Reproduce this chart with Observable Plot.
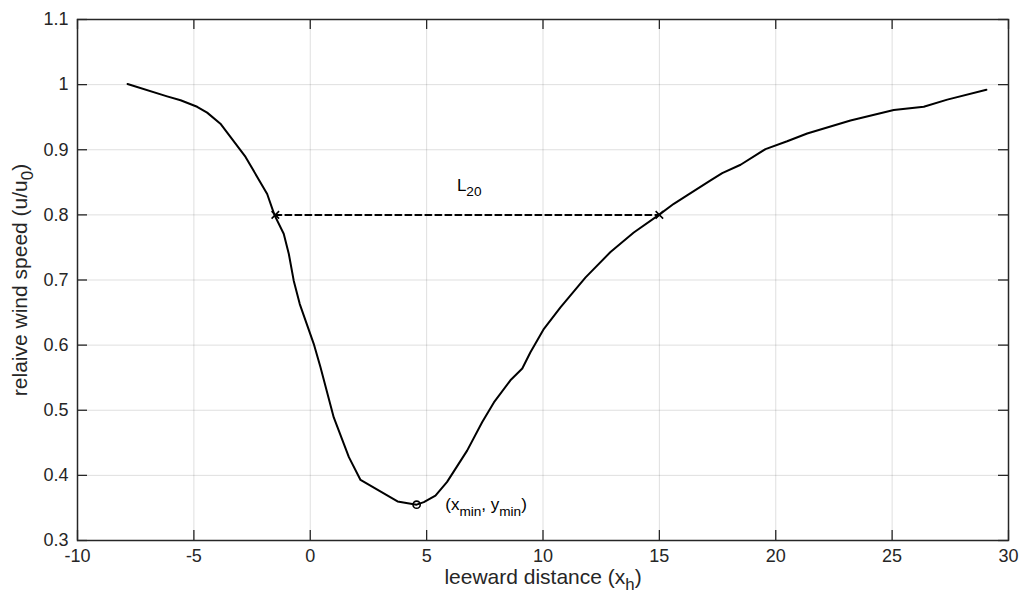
<!DOCTYPE html>
<html>
<head>
<meta charset="utf-8">
<script src="https://cdn.jsdelivr.net/npm/d3@7"></script>
<script src="https://cdn.jsdelivr.net/npm/@observablehq/plot@0.6"></script>
<style>
  html, body { margin: 0; padding: 0; background: white; }
</style>
</head>
<body>
<div id="chart"></div>
<script>
// Curve: leeward distance (x_h) vs relative wind speed (u/u0)
const distance = [-7.85, -6.15, -5.57, -4.86, -4.43, -3.86, -2.78, -1.85, -1.54, -1.14, -0.92, -0.71, -0.45,
  0.15, 0.44, 1.01, 1.66, 2.16, 3.75, 4.57, 4.88, 5.38, 5.88, 6.74, 7.39, 7.89, 8.60, 9.11, 9.46,
  10.04, 10.75, 11.83, 12.90, 13.90, 14.98, 15.62, 16.19, 17.20, 17.70, 18.49, 19.56, 20.49, 21.35,
  23.21, 25.07, 26.36, 27.37, 29.05];
const windSpeed = [1.001, 0.982, 0.976, 0.966, 0.957, 0.940, 0.889, 0.832, 0.800, 0.771, 0.740, 0.699, 0.663,
  0.602, 0.566, 0.489, 0.428, 0.393, 0.360, 0.355, 0.359, 0.369, 0.390, 0.438, 0.482, 0.512, 0.546, 0.564, 0.589,
  0.625, 0.658, 0.704, 0.743, 0.773, 0.800, 0.817, 0.830, 0.853, 0.864, 0.877, 0.901, 0.913, 0.925,
  0.945, 0.961, 0.966, 0.977, 0.992];

// L20 crossing points (u/u0 = 0.8)
const crossX = [-1.5, 15];
const crossY = [0.8, 0.8];

// minimum point
const minX = [4.57];
const minY = [0.355];

// annotations
const annotText = ["L_{20}", "(x_{min}, y_{min})"];
const annotX = [6.3, 5.8];
const annotY = [0.845, 0.355];

// ticks
const xTicks = [-10, -5, 0, 5, 10, 15, 20, 25, 30];
const yTicks = [0.3, 0.4, 0.5, 0.6, 0.7, 0.8, 0.9, 1.0, 1.1];

const xLabel = "leeward distance (x_{h})";
const yLabel = "relaive wind speed (u/u_{0})";

const curve = distance.map((x, i) => ({x, y: windSpeed[i]}));
const cross = crossX.map((x, i) => ({x, y: crossY[i]}));
const minPt = minX.map((x, i) => ({x, y: minY[i]}));
const annots = annotText.map((t, i) => ({t, x: annotX[i], y: annotY[i]}));

const W = 1023, H = 591, mL = 77, mR = 15, mT = 19, mB = 51;
const innerW = W - mL - mR, innerH = H - mT - mB;
const axisColor = "#262626";
const tickLen = 10;

const chart = Plot.plot({
  width: W, height: H,
  marginLeft: mL, marginRight: mR, marginTop: mT, marginBottom: mB,
  style: {fontFamily: "'Liberation Sans', Arial, Helvetica, sans-serif", fontSize: "18px", color: axisColor, background: "white"},
  x: {domain: [-10, 30]},
  y: {domain: [0.3, 1.1]},
  marks: [
    Plot.ruleX(xTicks, {x: d => d, stroke: axisColor, strokeOpacity: 0.15, strokeWidth: 1}),
    Plot.ruleY(yTicks, {y: d => d, stroke: axisColor, strokeOpacity: 0.15, strokeWidth: 1}),
    Plot.tickX(xTicks, {x: d => d, insetTop: innerH - tickLen, stroke: axisColor, strokeWidth: 1.3}),
    Plot.tickX(xTicks, {x: d => d, insetBottom: innerH - tickLen, stroke: axisColor, strokeWidth: 1.3}),
    Plot.tickY(yTicks, {y: d => d, insetRight: innerW - tickLen, stroke: axisColor, strokeWidth: 1.3}),
    Plot.tickY(yTicks, {y: d => d, insetLeft: innerW - tickLen, stroke: axisColor, strokeWidth: 1.3}),
    Plot.axisX(xTicks, {tickSize: 0, tickPadding: 9, tickFormat: d => String(d), label: null, fill: axisColor, fontSize: 18}),
    Plot.axisY(yTicks, {tickSize: 0, tickPadding: 9, tickFormat: d => String(+d.toFixed(1)), label: null, fill: axisColor, fontSize: 18}),
    Plot.frame({stroke: axisColor, strokeWidth: 1.5}),
    Plot.line(cross, {x: "x", y: "y", stroke: "black", strokeWidth: 2, strokeDasharray: "6,4"}),
    Plot.line(curve, {x: "x", y: "y", stroke: "black", strokeWidth: 2}),
    Plot.dot(cross, {x: "x", y: "y", symbol: "times", r: 3.5, stroke: "black", strokeWidth: 1.6}),
    Plot.dot(minPt, {x: "x", y: "y", symbol: "circle", r: 3.6, fill: "none", stroke: "black", strokeWidth: 1.6}),
    Plot.text(annots, {x: "x", y: "y", text: "t", textAnchor: "start", lineAnchor: "middle", fontSize: 17, fill: "black"}),
    Plot.text([xLabel], {text: d => d, frameAnchor: "bottom", textAnchor: "middle", lineAnchor: "bottom", dy: 43, fontSize: 21, fill: axisColor}),
    Plot.text([yLabel], {text: d => d, frameAnchor: "left", textAnchor: "middle", lineAnchor: "bottom", rotate: -90, dx: -51, fontSize: 21, fill: axisColor})
  ]
});

// Convert "_{...}" markup into subscript tspans
function applySubscripts(svg) {
  svg.querySelectorAll("text").forEach(t => {
    const s = t.textContent;
    if (!s.includes("_{")) return;
    t.textContent = "";
    const re = /_\{([^}]*)\}/g;
    let last = 0, m, lowered = false;
    const ns = "http://www.w3.org/2000/svg";
    while ((m = re.exec(s)) !== null) {
      const before = s.slice(last, m.index);
      if (before) {
        const n = document.createElementNS(ns, "tspan");
        if (lowered) n.setAttribute("dy", "-0.32em");
        n.textContent = before;
        t.appendChild(n);
        lowered = false;
      }
      const sub = document.createElementNS(ns, "tspan");
      sub.setAttribute("font-size", "80%");
      sub.setAttribute("dy", "0.4em");
      sub.textContent = m[1];
      t.appendChild(sub);
      lowered = true;
      last = re.lastIndex;
    }
    const rest = s.slice(last);
    if (rest) {
      const n = document.createElementNS(ns, "tspan");
      if (lowered) n.setAttribute("dy", "-0.32em");
      n.textContent = rest;
      t.appendChild(n);
    }
  });
}
applySubscripts(chart);
document.getElementById("chart").appendChild(chart);
</script>
</body>
</html>
